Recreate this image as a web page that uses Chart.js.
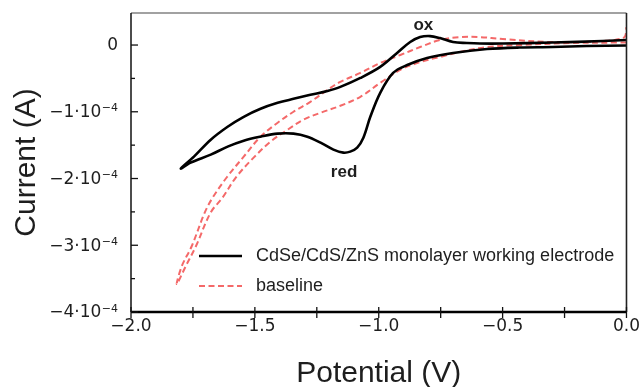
<!DOCTYPE html>
<html>
<head>
<meta charset="utf-8">
<script src="https://cdn.jsdelivr.net/npm/chart.js@4/dist/chart.umd.min.js"></script>
<style>
html,body{margin:0;padding:0;background:#fff;}
#wrap{width:644px;height:387px;position:relative;}
</style>
</head>
<body>
<div id="wrap"><canvas id="c" width="644" height="387"></canvas></div>
<script>
// Potential (V) and current (in units of 1e-4 A)
// CdSe/CdS/ZnS monolayer working electrode: one closed CV loop
const blackV = [0.0,-0.161,-0.298,-0.431,-0.563,-0.700,-0.805,-0.885,-0.942,-0.994,-1.034,-1.062,-1.087,-1.115,-1.143,-1.183,-1.235,-1.288,-1.344,-1.408,-1.477,-1.545,-1.610,-1.678,-1.759,-1.799,
  -1.746,-1.678,-1.610,-1.545,-1.477,-1.408,-1.344,-1.276,-1.207,-1.155,-1.074,-0.994,-0.926,-0.873,-0.833,-0.793,-0.753,-0.700,-0.644,-0.592,-0.499,-0.298,-0.097,0.0];
const blackI = [-0.007,-0.015,-0.03,-0.037,-0.06,-0.119,-0.194,-0.299,-0.418,-0.716,-1.075,-1.388,-1.537,-1.597,-1.612,-1.567,-1.463,-1.373,-1.328,-1.328,-1.373,-1.433,-1.522,-1.642,-1.761,-1.851,
  -1.672,-1.418,-1.224,-1.075,-0.955,-0.866,-0.806,-0.746,-0.687,-0.627,-0.493,-0.328,-0.119,0.045,0.119,0.134,0.104,0.045,0.030,0.022,0.022,0.037,0.060,0.075];
// baseline: one closed CV loop
const baseV = [0.0,-0.028,-0.229,-0.431,-0.563,-0.672,-0.753,-0.833,-0.913,-0.994,-1.074,-1.155,-1.235,-1.304,-1.368,-1.437,-1.505,-1.577,-1.630,-1.678,-1.738,-1.779,-1.815,
  -1.795,-1.755,-1.702,-1.670,-1.614,-1.545,-1.477,-1.408,-1.344,-1.276,-1.207,-1.155,-1.074,-0.994,-0.913,-0.833,-0.753,-0.672,-0.592,-0.499,-0.298,-0.097,-0.008,0.0];
const baseI = [0.037,0.037,0.030,0.0,-0.030,-0.104,-0.179,-0.254,-0.373,-0.567,-0.776,-0.910,-1.015,-1.119,-1.269,-1.448,-1.687,-1.985,-2.284,-2.507,-3.015,-3.313,-3.582,
  -3.313,-3.015,-2.507,-2.284,-1.985,-1.672,-1.373,-1.164,-1.000,-0.851,-0.672,-0.552,-0.418,-0.269,-0.149,-0.030,0.075,0.119,0.119,0.090,0.045,0.060,0.119,0.269];

const seriesNames = ['CdSe/CdS/ZnS monolayer working electrode','baseline'];
const xMajorTicks = [-2,-1.5,-1,-0.5,0];
const xTickLabels = ['\u22122.0','\u22121.5','\u22121.0','\u22120.5','0.0'];
const yMajorTicks = [0,-1,-2,-3,-4];
const yTickMantissa = ['0','\u22121\u00b710','\u22122\u00b710','\u22123\u00b710','\u22124\u00b710'];
const yTickExponent = ['','\u22124','\u22124','\u22124','\u22124'];
const peakLabels = ['ox','red'];
const peakAt = [-0.82,-1.14];

const FONT = "'Liberation Sans', Arial, Helvetica, sans-serif";
const TICKFONT = "'DejaVu Sans', Verdana, sans-serif";
const TXT = '#1e1e1e';

const toPts = (xs, ys) => xs.map((v,i)=>({x:v,y:ys[i]}));

const decor = {
  id:'decor',
  afterDraw(chart){
    const {ctx, chartArea:a, scales:{x,y}} = chart;
    ctx.save();
    // frame
    ctx.strokeStyle = '#444'; ctx.lineWidth = 1.2;
    ctx.beginPath(); ctx.moveTo(a.left, a.top); ctx.lineTo(a.right, a.top); ctx.stroke();
    ctx.strokeStyle = '#222'; ctx.lineWidth = 1.6;
    ctx.beginPath(); ctx.moveTo(a.right, a.top); ctx.lineTo(a.right, a.bottom); ctx.stroke();
    ctx.strokeStyle = '#111'; ctx.lineWidth = 1.5;
    ctx.beginPath(); ctx.moveTo(a.left, a.top); ctx.lineTo(a.left, a.bottom); ctx.stroke();
    ctx.strokeStyle = '#000'; ctx.lineWidth = 2.5;
    ctx.beginPath(); ctx.moveTo(a.left, a.bottom); ctx.lineTo(a.right, a.bottom); ctx.stroke();
    // x tick marks (crossing the axis)
    ctx.strokeStyle = '#111'; ctx.lineWidth = 1.3;
    x.ticks.forEach(t=>{
      const px = x.getPixelForValue(t.value);
      ctx.beginPath(); ctx.moveTo(px, a.bottom-5); ctx.lineTo(px, a.bottom+6); ctx.stroke();
    });
    // y tick marks (inside)
    y.ticks.forEach(t=>{
      const py = y.getPixelForValue(t.value);
      const major = Math.abs(t.value - Math.round(t.value)) < 1e-6;
      ctx.beginPath(); ctx.moveTo(a.left, py); ctx.lineTo(a.left + (major?7:4), py); ctx.stroke();
    });
    // y tick labels with superscript exponent
    ctx.fillStyle = TXT;
    yMajorTicks.forEach((v,i)=>{
      const py = y.getPixelForValue(v);
      const rx = 118;
      ctx.textAlign = 'right';
      ctx.font = '11px ' + TICKFONT;
      let ew = 0;
      if (yTickExponent[i]) {
        ctx.textBaseline = 'alphabetic';
        ctx.fillText(yTickExponent[i], rx, py - 0.5);
        ew = ctx.measureText(yTickExponent[i]).width + 0.5;
      }
      ctx.font = '17px ' + TICKFONT;
      ctx.textBaseline = 'middle';
      ctx.fillText(yTickMantissa[i], rx - ew, py + 1);
    });
    // peak labels
    ctx.font = 'bold 17px ' + FONT;
    ctx.textAlign = 'center'; ctx.textBaseline = 'alphabetic';
    ctx.fillText(peakLabels[0], x.getPixelForValue(peakAt[0]), 30);
    ctx.fillText(peakLabels[1], x.getPixelForValue(peakAt[1]), 177);
    // legend
    const ds = chart.data.datasets;
    const rows = [256, 286];
    rows.forEach((ry,i)=>{
      ctx.strokeStyle = ds[i].borderColor; ctx.lineWidth = ds[i].borderWidth;
      ctx.setLineDash(ds[i].borderDash || []);
      ctx.beginPath(); ctx.moveTo(199, ry); ctx.lineTo(242, ry); ctx.stroke();
      ctx.setLineDash([]);
      ctx.fillStyle = TXT; ctx.font = '18px ' + FONT;
      ctx.textAlign = 'left'; ctx.textBaseline = 'middle';
      ctx.fillText(seriesNames[i], 256, ry);
    });
    ctx.restore();
  }
};

new Chart(document.getElementById('c'), {
  type: 'scatter',
  data: {
    datasets: [
      { label: seriesNames[0], data: toPts(blackV, blackI), showLine: true, borderColor: '#000', borderWidth: 2.6, pointRadius: 0, tension: 0.35, fill: false, order: 1 },
      { label: seriesNames[1], data: toPts(baseV, baseI), showLine: true, borderColor: 'rgba(242,84,84,0.88)', borderWidth: 2, borderDash: [6,3.5], pointRadius: 0, tension: 0.35, fill: false, order: 2 }
    ]
  },
  options: {
    responsive: false, animation: false, devicePixelRatio: 1,
    layout: { padding: { left: 0, right: 17, top: 13, bottom: 0 } },
    plugins: { legend: { display: false }, tooltip: { enabled: false } },
    scales: {
      x: {
        type: 'linear', min: -2, max: 0,
        afterFit(s){ s.height = 75; },
        grid: { display: false, drawTicks: false }, border: { display: false },
        ticks: { stepSize: 0.25, includeBounds: false, autoSkip: false, maxRotation: 0, padding: 4,
          font: { family: TICKFONT, size: 17 }, color: TXT,
          callback(v){ const k = xMajorTicks.findIndex(m=>Math.abs(m-v)<1e-6); return k>=0 ? xTickLabels[k] : ''; } },
        title: { display: true, text: 'Potential (V)', font: { family: FONT, size: 30 }, color: TXT, padding: { top: 0, bottom: -5 } }
      },
      y: {
        type: 'linear', min: -4, max: 0.48,
        afterFit(s){ s.width = 131; },
        grid: { display: false, drawTicks: false }, border: { display: false },
        ticks: { stepSize: 0.5, includeBounds: false, autoSkip: false, callback(){ return ''; } },
        title: { display: true, text: 'Current (A)', font: { family: FONT, size: 30 }, color: TXT, padding: { top: 9, bottom: 0 } }
      }
    }
  },
  plugins: [decor]
});
</script>
</body>
</html>
